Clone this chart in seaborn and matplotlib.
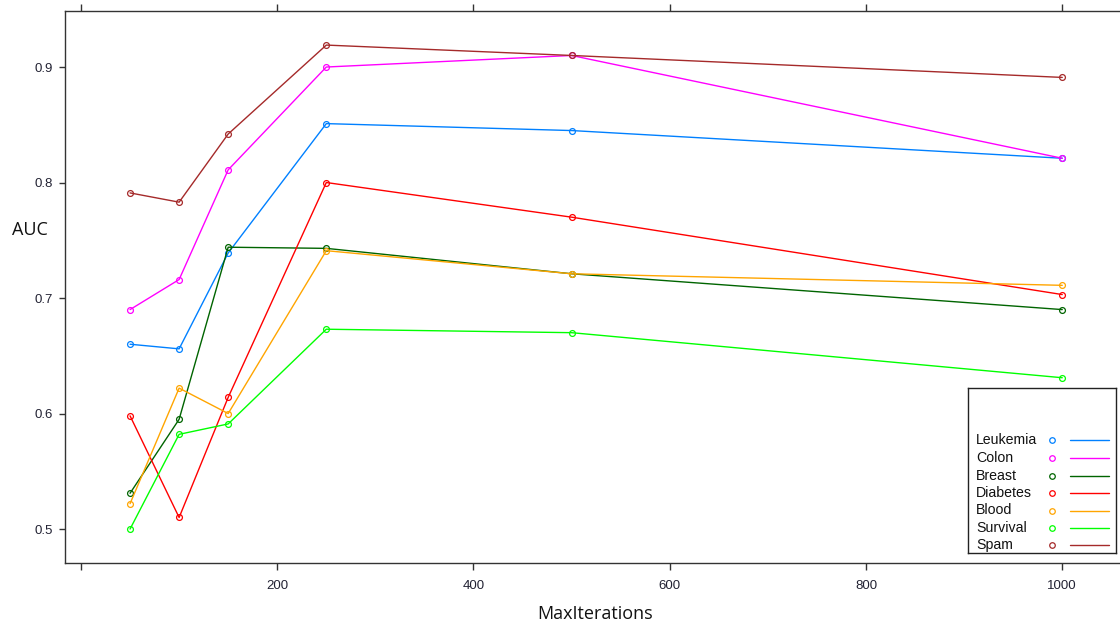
import matplotlib
matplotlib.use("Agg")
import matplotlib.pyplot as plt
import seaborn as sns
import pandas as pd
from matplotlib.lines import Line2D

# AUC by number of iterations for each dataset
max_iterations = [50, 100, 150, 250, 500, 1000]
datasets = ["Leukemia", "Colon", "Breast", "Diabetes", "Blood", "Survival", "Spam"]
leukemia = [0.660, 0.656, 0.739, 0.851, 0.845, 0.821]
colon = [0.690, 0.716, 0.811, 0.900, 0.910, 0.821]
breast = [0.531, 0.595, 0.744, 0.743, 0.721, 0.690]
diabetes = [0.598, 0.510, 0.614, 0.800, 0.770, 0.703]
blood = [0.522, 0.622, 0.600, 0.741, 0.721, 0.711]
survival = [0.500, 0.582, 0.591, 0.673, 0.670, 0.631]
spam = [0.791, 0.783, 0.842, 0.919, 0.910, 0.891]
series = [leukemia, colon, breast, diabetes, blood, survival, spam]
colors = ["#0080ff", "#ff00ff", "#006400", "#ff0000", "#ffa500", "#00ff00", "#a52a2a"]
x_ticks = [0, 200, 400, 600, 800, 1000]
x_tick_labels = ["", "200", "400", "600", "800", "1000"]
y_ticks = [0.5, 0.6, 0.7, 0.8, 0.9]
y_tick_labels = ["0.5", "0.6", "0.7", "0.8", "0.9"]

rows = []
for name, vals in zip(datasets, series):
    for it, v in zip(max_iterations, vals):
        rows.append({"MaxIterations": it, "AUC": v, "Dataset": name})
df = pd.DataFrame(rows)

sns.set_theme(style="white")
text_font = ["Liberation Sans", "DejaVu Sans"]
label_font = ["Open Sans", "DejaVu Sans"]

fig = plt.figure(figsize=(11.2, 6.28), dpi=100)
ax = fig.add_axes([65 / 1120, 1 - 563 / 628, (1127 - 65) / 1120, (563 - 11) / 628])

sns.lineplot(
    data=df, x="MaxIterations", y="AUC", hue="Dataset", hue_order=datasets,
    palette=colors, marker="o", markersize=4.2, fillstyle="none",
    markeredgewidth=0.9, linewidth=1.0, errorbar=None, legend=False, ax=ax,
)
# open circles drawn in each line's own colour
for ln in ax.lines:
    ln.set_markeredgecolor(ln.get_color())
    ln.set_markerfacecolor("none")

ax.set_xlim(-16.3, 1066)
ax.set_ylim(0.4706, 0.9485)
ax.set_xticks(x_ticks)
ax.set_xticklabels(x_tick_labels, family=text_font, fontsize=9.5, color="#222233")
ax.set_yticks(y_ticks)
ax.set_yticklabels(y_tick_labels, family=text_font, fontsize=9.5, color="#222233")
ax.tick_params(axis="x", direction="out", length=5, width=1, color="#333333",
               top=True, bottom=True, pad=7)
ax.tick_params(axis="y", direction="out", length=4.3, width=1, color="#333333",
               left=True, right=False, pad=4.5)
for s in ax.spines.values():
    s.set_color("#333333")
    s.set_linewidth(1.0)

ax.set_xlabel("")
ax.set_ylabel("")
fig.text(11.5 / 1120, 1 - 230.5 / 628, "AUC", family=label_font, fontsize=13,
         color="#111111", ha="left", va="center")
fig.text(595 / 1120, 1 - 614 / 628, "MaxIterations", family=label_font,
         fontsize=13, color="#111111", ha="center", va="center")

# Legend box: label, point symbol, line sample
leg = fig.add_axes([968 / 1120, 1 - 553 / 628, (1116 - 968) / 1120, (553 - 388) / 628])
leg.set_xlim(968, 1116)
leg.set_ylim(553, 388)
leg.set_xticks([])
leg.set_yticks([])
for s in leg.spines.values():
    s.set_color("#222222")
    s.set_linewidth(1.0)
leg.patch.set_facecolor("white")
entry_y = [440, 458, 475.5, 493, 510.5, 528, 545]
for name, col, yy in zip(datasets, colors, entry_y):
    leg.text(976, yy, name, family=text_font, fontsize=10.2,
             color="#111111", ha="left", va="center")
    leg.add_line(Line2D([1052], [yy], marker="o", markersize=4, fillstyle="none",
                        markeredgewidth=0.9, color=col, linestyle="none"))
    leg.add_line(Line2D([1070, 1109], [yy, yy], color=col, linewidth=1.0))

fig.savefig("out.png", dpi=100)
